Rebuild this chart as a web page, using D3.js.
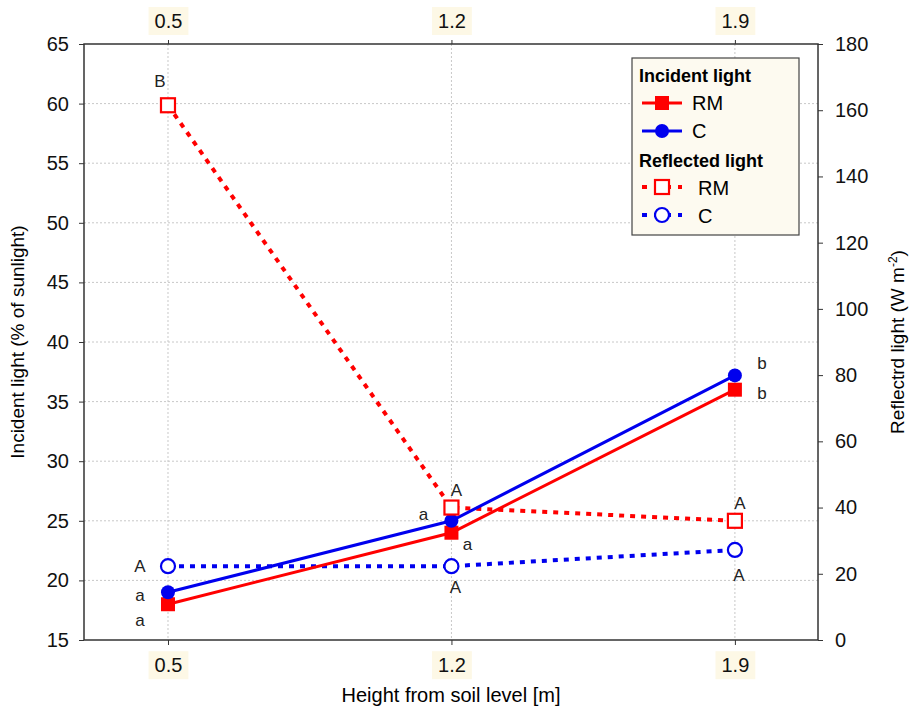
<!DOCTYPE html>
<html><head><meta charset="utf-8">
<script src="https://cdn.jsdelivr.net/npm/d3@7"></script>
<style>body{margin:0;background:#fff;} text{font-family:"Liberation Sans",Arial,sans-serif;}</style>
</head><body>
<svg id="c" width="912" height="708"></svg>
<script>
const heights = [0.5, 1.2, 1.9];
const incidentRM = [18, 24, 36];
const incidentC = [19, 25, 37.2];
const reflectedRM = [161.5, 40, 36];
const reflectedC = [22.3, 22.3, 27.2];
const leftTicks = [15,20,25,30,35,40,45,50,55,60,65];
const rightTicks = [0,20,40,60,80,100,120,140,160,180];
const lettersIncRM = ["a","a","b"];
const lettersIncC = ["a","a","b"];
const lettersRefRM = ["B","A","A"];
const lettersRefC = ["A","A","A"];

const svg = d3.select("#c");
const L=84, R=818, T=44, B=640;
const x = d3.scaleLinear().domain([0.2926, 2.1052]).range([L,R]);
const yL = d3.scaleLinear().domain([15,65]).range([B,T]);
const yR = d3.scaleLinear().domain([0,180]).range([B,T]);
const red="#ff0000", blue="#0000ee";

// grid
svg.append("g").selectAll("line").data(leftTicks.slice(1,-1)).join("line")
  .attr("x1",L).attr("x2",R).attr("y1",d=>yL(d)).attr("y2",d=>yL(d))
  .attr("stroke","#c8c8c8").attr("stroke-dasharray","2,2");
svg.append("g").selectAll("line").data(heights).join("line")
  .attr("x1",d=>x(d)).attr("x2",d=>x(d)).attr("y1",T).attr("y2",B)
  .attr("stroke","#c8c8c8").attr("stroke-dasharray","2,2");

// frame
svg.append("rect").attr("x",L).attr("y",T).attr("width",R-L).attr("height",B-T)
  .attr("fill","none").attr("stroke","#333").attr("stroke-width",1.5);

// axes
const axL = svg.append("g").attr("transform",`translate(${L},0)`)
  .call(d3.axisLeft(yL).tickValues(leftTicks).tickSize(5).tickPadding(10));
const axR = svg.append("g").attr("transform",`translate(${R},0)`)
  .call(d3.axisRight(yR).tickValues(rightTicks).tickSize(5).tickPadding(12));
const axB = svg.append("g").attr("transform",`translate(0,${B})`)
  .call(d3.axisBottom(x).tickValues(heights).tickFormat(d3.format(".1f")).tickSize(5).tickPadding(13));
const axT = svg.append("g").attr("transform",`translate(0,${T})`)
  .call(d3.axisTop(x).tickValues(heights).tickFormat(d3.format(".1f")).tickSize(4).tickPadding(12));
[axL,axR,axB,axT].forEach(a=>{
  a.select(".domain").remove();
  a.selectAll("line").attr("stroke","#333");
  a.selectAll("text").attr("font-size",20).attr("fill","#111").style("font-family","Liberation Sans, Arial");
});
// cream label backgrounds on x axes
[axB,axT].forEach(a=>{
  a.selectAll(".tick").each(function(){
    const g=d3.select(this), t=g.select("text"); const bb=t.node().getBBox();
    g.insert("rect","text").attr("x",bb.x-6).attr("y",bb.y-3).attr("width",bb.width+12).attr("height",bb.height+6).attr("fill","#fdf8e6");
  });
});

// titles
svg.append("text").attr("x",451).attr("y",702).attr("text-anchor","middle").attr("font-size",20).text("Height from soil level [m]");
svg.append("text").attr("transform","translate(24,342) rotate(-90)").attr("text-anchor","middle").attr("font-size",19).text("Incident light (% of sunlight)");
const rt = svg.append("text").attr("transform","translate(904,342) rotate(-90)").attr("text-anchor","middle").attr("font-size",19);
rt.append("tspan").text("Reflectrd light (W m");
rt.append("tspan").attr("dy",-7).attr("font-size",12).text("-2");
rt.append("tspan").attr("dy",7).text(")");

// lines
const lineL = d3.line().x((d,i)=>x(heights[i])).y(d=>yL(d));
const lineR = d3.line().x((d,i)=>x(heights[i])).y(d=>yR(d));
svg.append("path").datum(reflectedRM).attr("d",lineR).attr("fill","none").attr("stroke",red).attr("stroke-width",4).attr("stroke-dasharray","5,6");
svg.append("path").datum(reflectedC).attr("d",lineR).attr("fill","none").attr("stroke",blue).attr("stroke-width",4).attr("stroke-dasharray","5,6");
svg.append("path").datum(incidentRM).attr("d",lineL).attr("fill","none").attr("stroke",red).attr("stroke-width",3);
svg.append("path").datum(incidentC).attr("d",lineL).attr("fill","none").attr("stroke",blue).attr("stroke-width",3);

// markers
svg.append("g").selectAll("rect").data(incidentRM).join("rect")
  .attr("x",(d,i)=>x(heights[i])-7).attr("y",d=>yL(d)-7).attr("width",14).attr("height",14).attr("fill",red);
svg.append("g").selectAll("circle").data(incidentC).join("circle")
  .attr("cx",(d,i)=>x(heights[i])).attr("cy",d=>yL(d)).attr("r",7).attr("fill",blue);
svg.append("g").selectAll("rect").data(reflectedRM).join("rect")
  .attr("x",(d,i)=>x(heights[i])-7).attr("y",d=>yR(d)-7).attr("width",14).attr("height",14).attr("fill","#fff").attr("stroke",red).attr("stroke-width",2.2);
svg.append("g").selectAll("circle").data(reflectedC).join("circle")
  .attr("cx",(d,i)=>x(heights[i])).attr("cy",d=>yR(d)).attr("r",7).attr("fill","#fff").attr("stroke",blue).attr("stroke-width",2.2);

// letters
const lab = (xv,yv,t)=>svg.append("text").attr("x",xv).attr("y",yv).attr("text-anchor","middle").attr("font-size",17).attr("fill","#222").text(t);
const offRefRM=[[-8,-18],[5,-12],[5,-12]];
const offRefC=[[-28,6],[4,27],[4,31]];
const offIncC=[[-28,9],[-28,-1],[27,-6]];
const offIncRM=[[-28,22],[16,17],[27,9]];
reflectedRM.forEach((d,i)=>lab(x(heights[i])+offRefRM[i][0], yR(d)+offRefRM[i][1], lettersRefRM[i]));
reflectedC.forEach((d,i)=>lab(x(heights[i])+offRefC[i][0], yR(d)+offRefC[i][1], lettersRefC[i]));
incidentC.forEach((d,i)=>lab(x(heights[i])+offIncC[i][0], yL(d)+offIncC[i][1], lettersIncC[i]));
incidentRM.forEach((d,i)=>lab(x(heights[i])+offIncRM[i][0], yL(d)+offIncRM[i][1], lettersIncRM[i]));

// legend
const lg = svg.append("g").attr("transform","translate(632,58)");
lg.append("rect").attr("width",167).attr("height",177).attr("fill","#fdfaf0").attr("stroke","#444").attr("stroke-width",1.2);
const lt=(yv,t,xv,bold)=>lg.append("text").attr("x",xv).attr("y",yv).attr("font-size",bold?18:20).attr("font-weight",bold?"bold":"normal").text(t);
lt(24,"Incident light",7,true);
lt(109,"Reflected light",7,true);
lg.append("line").attr("x1",10).attr("x2",50).attr("y1",45).attr("y2",45).attr("stroke",red).attr("stroke-width",3);
lg.append("rect").attr("x",23).attr("y",38).attr("width",14).attr("height",14).attr("fill",red);
lt(52,"RM",60,false);
lg.append("line").attr("x1",10).attr("x2",50).attr("y1",73).attr("y2",73).attr("stroke",blue).attr("stroke-width",3);
lg.append("circle").attr("cx",30).attr("cy",73).attr("r",7).attr("fill",blue);
lt(80,"C",60,false);
lg.append("line").attr("x1",10).attr("x2",50).attr("y1",129).attr("y2",129).attr("stroke",red).attr("stroke-width",4).attr("stroke-dasharray","5,7");
lg.append("rect").attr("x",23).attr("y",122).attr("width",14).attr("height",14).attr("fill","#fff").attr("stroke",red).attr("stroke-width",2.2);
lt(137,"RM",66,false);
lg.append("line").attr("x1",10).attr("x2",50).attr("y1",157).attr("y2",157).attr("stroke",blue).attr("stroke-width",4).attr("stroke-dasharray","5,7");
lg.append("circle").attr("cx",30).attr("cy",157).attr("r",7).attr("fill","#fff").attr("stroke",blue).attr("stroke-width",2.2);
lt(165,"C",66,false);
</script>
</body></html>
